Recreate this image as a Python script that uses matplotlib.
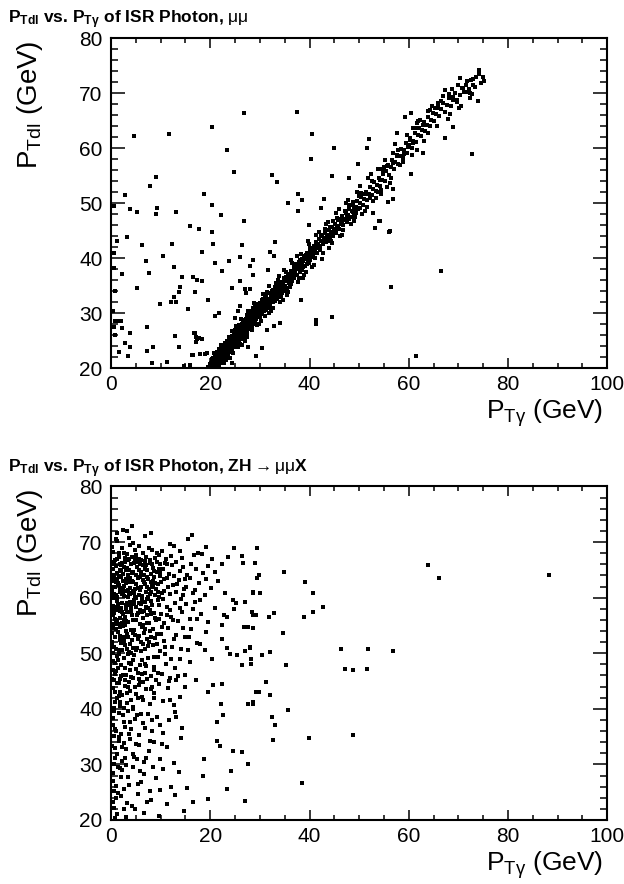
import matplotlib.pyplot as plt
from matplotlib.ticker import MultipleLocator

plt.rcParams['font.family'] = ['Liberation Sans', 'DejaVu Sans']
plt.rcParams['mathtext.fontset'] = 'custom'
plt.rcParams['mathtext.rm'] = 'Liberation Sans'
plt.rcParams['mathtext.it'] = 'Liberation Sans:italic'
plt.rcParams['mathtext.bf'] = 'Liberation Sans:bold'

# --- top panel: mu mu sample, (P_T gamma, P_T dl) pairs
top_band = [
    (19.6,20.2),(19.9,20.6),(20.1,20.1),(20.2,21.0),(20.4,20.4),(20.5,21.6),(20.6,20.9),(20.8,20.2),(20.9,22.1),(21.0,21.3),
    (21.1,20.6),(21.2,22.5),(21.3,21.8),(21.4,20.3),(21.5,22.9),(21.6,21.1),(21.7,22.2),(21.8,20.8),(21.9,23.1),(22.0,21.7),
    (22.1,22.6),(22.2,21.2),(22.3,23.5),(22.4,22.0),(22.5,20.9),(22.6,23.0),(22.7,22.4),(22.8,24.0),(22.9,21.8),(23.0,23.3),
    (23.1,22.6),(23.2,24.4),(23.3,23.8),(23.4,22.2),(23.5,24.9),(23.6,23.1),(23.7,24.2),(23.8,22.9),(23.9,25.1),(24.0,23.6),
    (24.1,24.7),(24.2,25.6),(24.3,23.4),(24.4,24.2),(24.5,25.3),(24.6,24.0),(24.7,26.0),(24.8,24.8),(24.9,23.9),(25.0,25.6),
    (25.1,26.3),(25.2,24.6),(25.3,25.9),(25.4,27.0),(25.5,25.2),(25.6,26.6),(25.7,24.9),(25.8,27.4),(25.9,26.1),(26.0,25.5),
    (26.1,27.2),(26.2,26.6),(26.3,28.1),(26.4,25.9),(26.5,27.6),(26.6,26.9),(26.7,28.4),(26.8,26.3),(26.9,27.9),(27.0,27.2),
    (27.1,29.0),(27.2,26.8),(27.3,28.5),(27.4,27.6),(27.5,29.3),(27.6,28.0),(27.7,27.1),(27.8,29.1),(27.9,28.4),(28.0,30.0),
    (28.1,27.9),(28.2,29.4),(28.3,28.7),(28.4,30.4),(28.5,28.1),(28.6,29.8),(28.7,29.0),(28.8,30.8),(28.9,28.6),(29.0,30.2),
    (29.1,29.4),(29.2,31.1),(29.3,28.9),(29.4,30.6),(29.5,29.9),(29.6,31.6),(29.7,30.3),(29.8,29.2),(29.9,31.0),(30.0,30.5),
    (30.1,31.8),(30.2,29.9),(30.4,31.3),(30.5,32.4),(30.6,30.7),(30.8,31.9),(30.9,30.3),(31.0,32.8),(31.2,31.6),(31.3,33.3),
    (31.4,30.9),(31.6,32.5),(31.7,31.8),(31.8,33.7),(32.0,32.2),(32.1,31.4),(32.3,33.4),(32.4,32.7),(32.6,34.2),(32.7,32.0),
    (32.8,33.8),(33.0,33.1),(33.1,34.7),(33.3,32.6),(33.4,34.1),(33.5,33.5),(33.7,35.2),(33.8,33.9),(34.0,32.9),(34.1,34.8),
    (34.3,34.2),(34.4,35.7),(34.5,33.6),(34.7,35.2),(34.8,34.6),(35.0,36.3),
    (35.1,35.0),(35.3,36.6),(35.4,34.5),(35.6,35.9),(35.8,37.1),(35.9,35.4),(36.1,36.8),(36.3,37.7),(36.4,35.9),(36.6,37.2),
    (36.8,38.3),(36.9,36.4),(37.1,37.8),(37.3,38.8),(37.4,36.9),(37.6,38.4),(37.8,39.3),(38.0,37.5),(38.2,38.9),(38.4,39.8),
    (38.5,37.9),(38.7,39.4),(38.9,40.3),(39.1,38.6),(39.3,40.0),(39.5,41.0),(39.6,39.1),(39.8,40.5),(40.0,39.6),
    (40.2,41.3),(40.4,40.2),(40.6,41.8),(40.8,40.7),(41.0,42.2),(41.2,41.3),(41.4,42.9),(41.6,41.0),(41.8,42.6),(42.0,43.4),
    (42.2,41.8),(42.4,43.1),(42.6,44.0),(42.8,42.5),(43.0,43.7),(43.2,44.6),(43.4,42.9),(43.6,44.2),(43.9,45.1),(44.1,43.5),
    (44.3,44.8),(44.5,45.7),(44.7,44.0),(44.9,45.3),
    (45.1,46.2),(45.3,44.6),(45.6,45.9),(45.8,46.9),(46.0,45.3),(46.3,46.5),(46.5,47.6),(46.8,46.0),(47.0,47.2),(47.3,48.2),
    (47.5,46.6),(47.8,47.9),(48.0,48.9),(48.3,47.5),(48.5,48.6),(48.8,49.6),(49.0,48.1),(49.3,49.3),(49.6,50.4),(49.8,48.9),
    (50.1,50.0),(50.4,51.2),(50.7,49.6),(51.0,50.8),(51.3,52.0),(51.6,50.6),(51.9,51.7),(52.2,52.9),(52.5,51.4),(52.8,52.5),
    (53.1,53.8),(53.4,52.3),(53.7,53.4),(54.0,54.6),(54.3,53.1),(54.6,54.2),(54.9,55.3),
    (55.2,54.1),(55.5,55.8),(55.8,56.9),(56.1,55.2),(56.4,56.6),(56.7,57.8),(57.0,56.3),(57.3,57.5),(57.6,58.8),(57.9,57.2),
    (58.2,58.6),(58.5,59.9),(58.8,58.3),(59.1,59.6),(59.4,61.0),(59.7,59.2),
    (60.0,60.6),(60.3,61.9),(60.6,60.1),(60.9,61.4),(61.2,62.8),(61.5,61.1),(61.8,62.5),(62.1,63.7),(62.4,62.2),(62.7,63.4),
    (63.0,64.8),(63.3,63.1),(63.6,64.3),(63.9,65.6),(64.2,64.0),(64.5,65.2),(64.8,66.5),
    (65.1,65.0),(65.5,66.3),(65.9,67.4),(66.2,65.9),(66.6,67.1),(67.0,68.3),(67.4,66.6),(67.8,67.9),(68.2,69.1),(68.6,67.6),
    (69.0,68.8),(69.4,70.0),(69.8,68.5),
    (70.3,69.7),(70.7,71.0),(71.2,70.2),(71.6,71.6),(72.1,70.8),(72.6,72.4),(73.0,71.5),(73.5,72.9),(74.1,73.5),(74.6,71.9),
    (75.2,72.3),(74.9,73.0),
    (74.2,74.3),(72.9,72.6),(70.3,72.7),(71.0,70.9),(71.5,70.2),(72.3,70.0),(72.3,69.2),(73.3,71.2),(67.4,70.6),(68.1,69.8),
    (69.0,69.4),(69.8,68.8),(70.5,67.6),(70.1,67.4),(65.9,68.2),(66.6,68.6),(65.3,67.3),(64.6,67.7),(63.9,66.7),(62.3,65.2),
    (62.9,64.3),(61.6,64.6),(60.9,63.7),(60.4,66.5),(59.2,65.7),(60.2,61.5),(60.9,60.9),(59.9,60.3),(61.6,59.7),(62.9,59.1),
    (57.6,58.5),(56.9,57.3),(55.6,56.7),(54.9,55.5),(54.2,54.3),(55.6,53.0),(54.5,52.4),(73.9,68.6),
]

top_band_extra = [
    (20.3,21.4),(21.7,20.5),(22.9,23.6),(20.9,20.6),(23.5,22.1),(24.8,26.3),(22.2,24.1),(25.9,24.4),(21.3,23.0),(26.5,28.7),
    (23.9,21.9),(27.3,25.6),(24.3,26.8),(28.4,26.9),(25.2,27.7),(29.1,31.7),(26.3,24.2),(30.3,28.6),(27.6,30.4),(31.1,29.4),
    (28.9,31.9),(32.2,30.3),(29.4,27.9),(33.6,36.1),(30.7,33.4),(34.6,32.4),(31.9,34.9),(35.7,33.8),(32.6,30.9),(36.5,39.2),
    (33.9,36.8),(37.7,35.6),(34.9,37.8),(38.8,37.0),(35.5,33.3),(39.9,42.6),(36.2,39.6),(40.9,38.8),(37.5,40.3),(41.9,44.7),
    (38.6,36.4),(42.7,40.9),(39.7,43.1),(43.8,46.5),(40.5,38.3),(44.6,42.7),(41.3,44.2),(45.4,48.2),(42.5,39.9),(46.2,44.1),
    (43.3,46.3),(47.4,50.1),(44.0,41.8),(48.4,46.2),(45.9,48.9),(49.5,52.0),(46.6,44.3),(50.6,48.1),(47.7,50.6),(51.8,54.5),
    (48.9,46.7),(52.9,50.4),(50.2,53.1),(53.8,56.2),(51.1,48.6),(54.4,51.6),(52.4,55.4),(55.3,57.8),(53.5,50.9),(56.2,53.7),
    (20.7,22.7),(22.5,22.6),(21.9,21.6),(23.1,21.4),(24.6,25.2),(23.7,25.6),(25.5,23.8),(26.9,26.0),(26.1,28.9),(27.9,27.1),
    (28.6,30.9),(29.8,28.1),(30.5,30.1),(31.5,33.9),(32.9,32.4),(33.2,35.4),(34.2,33.6),(35.2,37.4),(36.0,34.7),(37.0,38.9),
    (37.9,36.3),(38.3,40.8),(39.2,37.4),(40.1,41.9),(41.1,40.1),(42.1,42.2),(43.1,45.3),(44.4,43.2),(45.5,47.3),(46.7,45.2),
    (47.9,49.7),(49.1,47.4),(50.3,51.9),(51.5,49.3),(52.6,54.1),(53.9,52.0),(55.1,56.6),(56.5,54.6),(57.8,59.7),(58.9,57.5),
    (20.0,20.8),(21.5,21.8),(22.8,22.3),(24.1,23.3),(25.4,26.4),(26.7,26.1),(27.8,28.9),(29.6,30.9),(31.3,30.6),(32.5,33.9),
    (34.8,36.4),(36.7,36.3),(38.1,39.6),(40.3,40.9),(42.3,44.3),(44.8,46.7),(47.2,46.9),(49.9,51.3),(52.1,51.0),(54.7,56.3),
    (22.4,21.1),(23.3,24.9),(24.5,22.8),(25.7,27.9),(27.0,25.0),(28.3,29.9),(29.2,28.0),(30.6,32.6),(31.8,30.1),(33.0,34.6),
    (20.6,21.9),(21.2,20.1),(21.8,23.4),(22.6,21.5),(23.8,23.7),(24.4,25.9),(25.3,24.2),(26.6,27.0),(27.4,29.6),(28.1,27.2),
    (57.2,60.8),(58.3,56.9),(59.6,62.4),(60.7,58.8),(61.9,64.9),(63.1,61.4),(64.3,66.9),(65.6,64.0),(66.9,69.6),(68.4,66.2),
    (56.8,59.1),(59.0,58.9),(61.3,63.6),(63.8,62.7),(66.0,67.9),(68.7,70.7),(71.8,72.3),(67.9,65.4),(70.0,71.6),(72.8,69.9),
    (25.0,27.0),(26.0,26.9),(27.2,27.9),(29.0,29.3),(30.9,31.2),(33.5,32.7),(35.8,35.9),(39.4,39.8),(43.5,43.6),(48.7,48.4),
    (20.4,21.7),(21.1,22.0),(21.6,20.3),(22.1,23.1),(22.7,21.0),(23.2,22.9),(23.6,24.5),(24.2,23.1),(24.7,24.4),(25.1,25.0),
    (25.6,27.2),(26.2,25.2),(26.8,27.6),(27.3,26.3),(27.9,29.6),(28.5,27.4),(29.0,28.6),(29.5,30.6),(30.1,29.2),(30.7,31.5),
    (31.2,32.3),(31.9,31.1),(32.4,34.0),(33.1,32.2),(33.7,34.5),(34.3,33.1),(34.9,35.9),(35.5,36.2),(36.2,35.3),(36.8,37.7),
    (37.4,38.1),(38.0,38.6),(38.6,38.3),(39.2,40.6),(39.8,39.2),(40.6,40.9),(41.4,41.8),(42.1,41.4),(42.9,43.6),(43.7,43.1),
    (44.2,45.6),(45.0,44.5),(45.8,45.9),(46.5,46.3),(47.2,48.6),(48.0,47.1),(48.7,50.2),(49.4,48.2),(50.2,49.1),(51.2,51.6),
    (20.8,21.5),(21.4,21.2),(22.0,22.4),(22.6,22.2),(23.0,24.6),(23.6,22.5),(24.3,24.9),(24.9,25.4),(25.5,24.5),(26.0,27.8),
    (26.6,25.6),(27.1,27.6),(27.7,28.2),(28.2,28.1),(28.8,29.5),(29.3,29.8),(29.9,30.2),(30.4,30.9),(31.0,31.0),(31.6,31.3),
    (32.2,32.9),(32.9,33.4),(33.6,33.0),(34.2,35.3),(34.9,34.0),(35.6,36.7),(36.3,36.4),(37.0,37.3),(37.8,38.0),(38.5,39.0),
    (39.4,38.9),(40.3,41.6),(41.2,42.0),(42.0,41.9),(43.0,43.2),(44.0,44.3),(45.2,45.1),(46.4,47.2),(47.6,47.7),(48.9,49.0),
]

top_outliers = [
    (4.7,62.3),(11.6,62.6),(20.3,63.8),(26.7,66.5),(23.4,59.6),(24.7,55.6),(9.0,54.7),(7.9,53.2),(2.8,51.5),(18.8,51.6),
    (20.3,49.7),(0.6,49.4),(3.8,49.0),(9.2,49.1),(9.1,48.1),(5.3,48.4),(13.1,48.4),(22.2,47.8),(26.7,46.8),(15.9,45.8),
    (17.8,45.3),(20.4,44.8),(3.2,43.9),(1.2,43.2),(12.2,42.6),(20.6,42.6),(26.4,42.3),(6.3,42.4),(18.4,41.2),(0.5,40.9),
    (10.4,40.4),(28.7,39.6),(7.1,39.4),(21.0,39.2),(23.8,39.4),(26.0,40.2),(28.0,38.5),(0.5,38.2),(2.2,37.2),(7.7,37.3),
    (12.6,38.3),(22.4,37.7),(28.7,37.0),(14.3,36.6),(16.6,36.5),(17.3,36.1),(18.3,35.8),(26.0,35.9),(5.2,34.6),(13.9,34.7),
    (24.4,34.5),(27.0,34.4),(0.8,34.1),(13.6,33.8),(16.9,33.9),(12.6,33.0),(12.0,32.1),(13.1,32.1),(19.6,32.4),(9.9,31.7),
    (15.6,30.8),(25.9,31.2),(0.4,30.3),(21.0,29.4),(21.7,30.0),(0.7,28.5),(1.1,28.5),(2.1,28.5),(0.5,27.5),(2.2,27.3),
    (7.2,27.5),(3.8,26.4),(0.8,26.0),(12.8,25.8),(16.8,26.3),(17.1,25.6),(17.4,25.3),(2.8,24.6),(3.8,23.9),(8.4,23.8),
    (13.7,23.8),(1.6,22.9),(7.3,23.1),(3.4,22.2),(16.5,22.3),(19.3,22.7),(8.3,20.9),(11.2,21.1),(14.7,20.4),
    (72.7,59.0),(67.4,61.8),(60.4,55.3),(56.9,52.6),(56.8,50.7),(55.8,50.3),(54.2,46.8),(56.1,44.8),(69.0,63.8),(59.2,65.7),
    (57.7,62.7),(37.4,66.6),(40.6,62.6),(44.9,60.1),(40.3,58.1),(32.5,55.1),(33.4,53.9),(52.0,61.7),(51.5,60.1),(57.6,62.7),
    (37.7,51.7),(38.4,50.6),(35.7,50.0),(44.6,55.0),(42.9,50.7),(37.7,48.5),(42.3,49.2),(49.8,57.1),(48.0,54.6),(52.7,48.2),
    (39.8,46.0),(32.0,41.1),(33.0,42.9),(32.9,40.4),(31.6,37.9),(28.0,34.4),(27.2,33.7),(34.1,32.1),(33.2,32.7),(38.3,32.3),
    (25.5,30.3),(25.0,29.1),(28.8,29.9),(31.4,27.0),(32.9,27.6),(34.1,28.2),(17.0,26.4),(17.2,24.7),(17.8,25.5),(18.3,25.3),
    (16.4,22.3),(17.9,22.6),(19.0,22.6),(27.7,23.9),(30.4,23.7),(29.2,22.1),(24.3,20.9),(15.9,20.5),(66.5,37.7),(56.5,34.7),
    (44.5,29.3),(41.4,28.8),(41.4,28.1),(61.4,22.1),(53.2,45.5),(54.0,46.7),(56.2,44.9),
]

# --- bottom panel: ZH -> mu mu X sample
bot_core = [
    (0.4,68.3),(2.3,69.0),(4.9,68.5),(7.7,68.9),(9.2,68.1),(12.6,69.3),(1.5,68.0),(3.9,69.5),
    (0.3,65.2),(0.8,66.8),(1.2,64.5),(1.6,67.3),(2.1,65.9),(2.4,64.2),(2.9,66.4),(3.3,67.8),(3.6,65.0),(4.0,66.1),
    (4.5,64.7),(4.8,67.0),(5.2,65.6),(5.7,66.9),(6.1,64.4),(6.5,65.8),(7.0,67.4),(7.3,64.9),(7.9,66.2),(8.4,65.3),
    (8.8,67.1),(9.3,64.6),(9.9,66.0),(10.4,65.1),(11.0,67.0),(11.6,64.3),(12.3,65.8),(13.1,66.5),(13.8,64.8),(14.6,65.5),
    (15.4,64.1),(16.2,66.0),(0.5,64.0),(1.9,66.0),(3.0,64.9),(5.0,67.6),(6.8,66.6),(8.1,64.2),(9.6,67.6),(10.8,66.2),
    (12.0,67.5),(17.1,65.2),(18.5,64.4),(19.6,65.7),(21.0,64.6),(22.4,66.1),
    (0.2,61.3),(0.6,63.5),(0.9,60.4),(1.3,62.6),(1.7,61.0),(2.0,63.8),(2.3,60.7),(2.7,62.1),(3.1,63.3),(3.4,60.2),
    (3.8,61.7),(4.2,63.0),(4.6,60.9),(5.0,62.4),(5.4,63.6),(5.8,61.4),(6.2,60.3),(6.6,62.8),(7.0,61.1),(7.4,63.4),
    (7.8,60.6),(8.2,62.2),(8.7,63.7),(9.1,61.5),(9.6,60.2),(10.1,62.9),(10.6,61.2),(11.2,63.5),(11.8,60.7),(12.4,62.3),
    (13.0,61.0),(13.7,63.2),(14.4,60.5),(15.2,62.0),(16.0,63.6),(16.9,61.3),(17.8,62.7),(18.9,60.4),(20.1,61.8),(21.5,63.0),
    (23.0,60.8),(0.4,62.0),(1.1,60.1),(1.5,63.9),(2.5,61.6),(3.6,62.9),(4.4,61.2),(5.6,60.5),(6.4,63.1),(7.2,62.0),
    (8.0,61.0),(8.9,62.6),(9.8,63.9),(11.5,61.9),(13.3,62.5),(14.9,63.4),(16.5,60.8),(19.2,63.3),(0.1,63.0),(3.9,60.6),
    (6.0,61.9),(10.3,60.9),(12.7,63.9),
    (0.3,58.5),(0.7,56.2),(1.1,59.4),(1.4,55.3),(1.8,57.6),(2.2,59.0),(2.6,56.0),(3.0,57.9),(3.5,55.6),(3.9,58.7),
    (4.3,56.8),(4.7,59.6),(5.1,55.9),(5.5,57.3),(6.0,58.9),(6.4,56.4),(6.9,59.2),(7.3,55.4),(7.8,57.7),(8.3,58.6),
    (8.8,56.3),(9.4,59.5),(10.0,57.1),(10.7,55.5),(11.3,58.4),(12.0,56.6),(12.8,59.1),(13.5,55.8),(14.3,57.5),(15.1,58.8),
    (16.0,56.2),(17.0,59.3),(18.2,57.0),(19.5,55.7),(21.0,58.2),(22.7,56.9),(24.5,59.6),(0.5,57.2),(2.9,55.1),(4.0,57.4),
    (5.8,55.2),(7.5,58.1),(9.1,55.9),(11.8,57.8),(14.0,59.7),(0.9,55.7),(2.0,58.2),(6.6,57.6),(8.6,57.3),(10.4,59.8),
    (0.2,53.6),(0.6,51.2),(1.0,54.4),(1.5,50.6),(1.9,52.8),(2.4,54.9),(2.8,51.5),(3.3,53.4),(3.7,50.3),(4.2,52.4),
    (4.7,54.2),(5.2,51.0),(5.7,53.1),(6.2,54.7),(6.8,50.8),(7.3,52.6),(7.9,54.0),(8.5,51.4),(9.2,53.5),(9.9,50.4),
    (10.6,52.2),(11.4,54.5),(12.2,51.1),(13.1,53.2),(14.0,50.7),(15.0,52.9),(16.1,54.3),(17.3,51.8),(0.4,50.1),(2.1,51.9),
    (3.0,54.0),(4.5,50.9),(6.0,52.0),(8.0,53.0),(10.2,54.8),(12.7,52.6),(14.6,54.6),
    (0.3,48.6),(0.8,46.2),(1.2,49.5),(1.7,45.4),(2.1,47.8),(2.6,49.1),(3.1,46.0),(3.6,48.3),(4.1,45.7),(4.6,49.7),
    (5.1,47.1),(5.7,45.3),(6.2,48.8),(6.8,46.5),(7.4,49.2),(8.0,45.9),(8.7,47.6),(9.4,49.4),(10.2,46.3),(11.0,48.1),
    (11.9,45.6),(12.8,47.4),(13.8,49.0),(14.9,46.0),(16.0,48.5),(17.2,45.2),(0.5,45.1),(1.4,47.3),(3.4,49.8),(5.4,46.4),
    (7.0,47.7),(9.0,45.2),(10.8,49.9),(13.0,45.1),
    (0.2,43.7),(0.7,41.3),(1.2,44.6),(1.7,40.5),(2.2,42.4),(2.8,44.1),(3.3,41.0),(3.9,43.2),(4.5,40.3),(5.1,42.7),
    (5.8,44.8),(6.4,41.6),(7.1,43.5),(7.9,40.8),(8.7,42.9),(9.6,44.4),(10.5,41.4),(11.5,43.8),(12.6,40.6),(13.8,42.2),
    (15.0,44.0),(0.5,40.1),(1.9,43.0),(3.6,44.9),(5.4,41.9),(8.2,44.0),
    (0.3,38.4),(0.9,36.1),(1.5,39.3),(2.1,35.5),(2.7,37.7),(3.4,39.6),(4.1,36.4),(4.9,38.2),(5.7,35.3),(6.5,37.5),
    (7.4,39.1),(8.3,36.0),(9.3,38.6),(10.4,35.7),(11.6,37.9),(12.9,39.4),(14.2,36.6),(0.6,35.2),(2.4,38.9),(4.5,39.9),
    (6.9,36.6),
    (0.2,33.4),(0.8,31.2),(1.5,34.3),(2.2,30.6),(3.0,32.7),(3.8,34.6),(4.7,31.3),(5.6,33.5),(6.6,30.4),(7.6,32.4),
    (8.7,34.1),(9.9,31.0),(11.2,33.2),(12.6,30.2),(14.1,34.8),(0.5,30.1),(2.6,33.8),(5.2,30.9),
    (0.3,28.4),(1.0,26.1),(1.8,29.3),(2.6,25.5),(3.5,27.7),(4.5,29.6),(5.5,26.4),(6.6,28.2),(7.8,25.3),(9.1,27.5),
    (10.5,29.1),(12.0,26.0),(13.6,28.6),(15.3,25.8),(0.6,25.2),(3.0,29.9),
    (0.4,23.2),(1.2,21.0),(2.1,24.3),(3.1,20.6),(4.2,22.5),(5.4,24.7),(6.7,21.3),(8.1,23.6),(9.6,20.8),(11.2,22.9),
    (12.9,24.5),(14.7,21.6),(0.8,20.3),(2.6,22.0),
]

bot_core_extra = [
    (0.7,63.2),(1.9,61.7),(3.2,65.4),(4.4,62.9),(0.5,60.7),(2.8,67.1),(5.9,63.8),(1.4,58.9),(3.7,60.9),(6.7,64.1),
    (2.2,66.3),(7.6,61.6),(0.9,65.7),(4.1,58.2),(5.3,66.4),(8.5,63.0),(1.6,62.3),(3.4,64.0),(6.3,59.6),(0.3,56.8),
    (2.6,60.3),(7.1,65.9),(4.8,61.5),(9.4,62.5),(1.2,67.0),(5.6,64.9),(3.0,58.6),(8.1,59.4),(0.6,59.9),(6.9,62.4),
    (2.4,63.0),(4.6,66.2),(9.9,64.4),(1.8,56.4),(7.9,66.8),(3.9,63.6),(0.2,66.0),(5.1,60.0),(10.7,63.4),(2.9,61.2),
    (6.1,66.7),(1.0,57.7),(4.3,64.4),(8.9,60.5),(3.5,66.8),(0.8,61.9),(5.8,57.8),(7.3,63.7),(2.0,64.8),(11.3,66.0),
    (0.4,54.6),(1.7,52.3),(3.1,55.8),(4.9,53.3),(0.9,50.8),(2.5,57.1),(6.4,55.0),(1.3,53.8),(3.8,51.6),(7.2,56.9),
    (2.2,55.4),(5.4,52.5),(0.6,57.9),(4.4,55.9),(8.4,54.3),(1.6,49.8),(3.4,52.9),(6.0,50.4),(0.2,52.0),(2.7,53.0),
    (5.0,58.4),(9.6,56.2),(1.1,56.0),(4.0,50.0),(7.6,52.1),(3.2,57.4),(0.7,48.3),(2.3,50.5),(6.6,53.6),(1.9,54.7),
    (0.3,46.9),(1.5,44.7),(2.9,47.3),(4.5,45.6),(0.8,43.0),(2.4,46.0),(5.9,47.9),(1.2,41.9),(3.5,44.0),(7.3,45.3),
    (0.5,39.6),(1.9,41.2),(3.2,42.9),(0.9,46.8),(4.8,44.0),(6.3,42.1),(2.7,40.1),(0.2,45.3),(8.6,47.0),(4.0,48.0),
    (0.4,37.0),(1.6,34.9),(2.9,36.8),(0.7,33.0),(3.8,37.6),(5.0,33.6),(1.1,31.8),(2.3,29.0),(0.3,27.1),(1.4,24.9),
    (3.6,26.3),(0.6,22.1),(2.0,27.8),(4.4,31.9),(6.1,39.0),(7.8,34.2),(9.8,37.1),(11.9,41.5),(13.4,45.9),(10.9,51.1),
    (12.5,55.9),(14.8,61.5),(16.6,57.9),(15.7,53.0),(13.9,58.2),(17.9,59.6),(11.2,56.8),(10.1,53.4),(12.1,49.0),(15.5,50.6),
    (9.4,46.5),(11.6,45.0),(8.7,42.0),(13.1,38.6),(10.2,33.7),(8.4,29.5),(6.0,26.9),(4.8,21.9),(7.3,23.2),(9.9,25.4),
    (0.1,69.2),(1.0,70.6),(2.6,68.1),(5.7,69.3),(3.6,70.8),(6.4,68.0),(10.2,68.4),(14.2,67.2),(16.8,67.7),(20.3,66.9),
    (0.6,66.4),(1.8,64.9),(3.1,62.6),(4.2,67.3),(5.5,61.8),(6.8,65.2),(8.0,62.9),(9.2,66.5),(0.3,60.2),(1.5,58.1),
    (2.7,65.6),(3.8,59.3),(5.0,64.1),(6.2,57.4),(7.4,60.2),(8.6,64.8),(9.7,58.7),(1.0,62.8),(2.2,57.5),(3.4,61.4),
    (4.6,58.9),(5.8,66.1),(7.0,58.3),(8.2,66.0),(9.4,61.0),(0.5,55.3),(1.7,53.1),(2.9,56.6),(4.1,54.1),(5.3,56.9),
    (6.5,51.7),(7.7,55.5),(8.9,52.8),(0.2,51.6),(1.4,48.7),(2.6,52.2),(3.8,46.9),(5.0,50.6),(6.2,46.2),(7.4,51.3),
    (8.6,49.3),(0.8,53.0),(2.0,45.9),(3.2,50.8),(4.4,48.8),(5.6,44.2),(6.8,48.1),(8.0,43.6),(9.2,51.7),(1.2,63.4),
    (2.4,61.0),(3.6,67.0),(4.8,60.1),(6.0,64.7),(7.2,59.8),(8.4,61.9),(9.6,65.1),(0.9,58.4),(2.1,55.0),(3.3,59.0),
    (4.5,53.7),(5.7,59.1),(6.9,54.4),(8.1,57.1),(0.4,43.7),(1.6,42.3),(2.8,45.1),(4.0,41.5),(5.2,38.9),(6.4,44.9),
    (0.7,36.4),(2.2,33.1),(3.7,35.5),(1.3,29.5),(2.9,31.2),(0.9,24.0),(3.3,23.1),(5.8,28.8),(7.0,31.1),(8.3,38.0),
]

bot_outliers = [
    (63.9,65.8),(66.2,63.6),(88.2,64.0),(46.3,50.8),(51.7,50.7),(56.9,50.4),(47.2,47.2),(48.8,47.0),(51.6,47.2),(48.8,35.3),
    (39.9,34.7),(38.5,26.6),(42.7,58.3),(40.8,60.8),(40.8,57.4),(38.8,56.6),(39.0,62.9),(34.9,64.7),(34.6,53.6),(35.2,47.9),
    (35.6,39.7),(32.6,34.4),(33.0,37.1),(32.4,38.6),(32.1,42.5),(31.3,44.8),(29.2,43.0),(29.8,43.0),(28.6,40.8),(30.5,49.7),
    (32.0,50.2),(28.2,48.1),(28.0,51.0),(28.6,54.5),(28.6,56.9),(29.2,56.9),(31.8,56.5),(32.8,57.3),(28.6,60.8),(30.0,60.8),
    (29.5,63.5),(29.8,64.1),(29.1,66.3),(29.4,68.9),
    (2.5,72.2),(4.3,72.9),(3.2,71.9),(8.0,71.7),(6.9,71.0),(16.3,71.3),(15.6,70.5),(11.9,69.6),(13.9,68.4),(8.2,68.6),
    (4.5,69.9),(1.2,71.6),(1.2,70.1),(19.2,69.2),(17.6,68.0),(18.3,67.8),(24.7,69.0),(26.3,67.5),(23.6,67.4),(26.5,66.2),
    (28.7,61.0),(28.4,57.4),(26.7,54.7),(27.7,54.7),(26.9,59.2),(25.2,59.1),(24.8,57.9),(23.3,56.5),(22.3,55.0),
    (22.3,52.6),(23.3,51.0),(24.0,49.8),(25.3,49.7),(26.3,47.8),(27.0,50.4),(28.0,51.1),(28.3,49.0),(27.7,40.9),(28.6,41.2),
    (22.1,40.9),(22.6,38.8),(21.3,37.6),(20.6,44.2),(19.6,43.0),(22.3,44.5),(20.3,49.0),(19.0,50.5),(18.0,51.7),(19.2,53.8),
    (17.3,56.2),(21.3,34.3),(22.0,33.4),(24.5,32.5),(26.3,32.2),(27.7,30.1),(24.1,28.9),(26.9,23.5),(23.3,25.5),(18.5,28.0),
    (19.6,23.8),(16.6,23.2),(18.7,31.0),
]

x_ticks = [0, 20, 40, 60, 80, 100]
y_ticks = [20, 30, 40, 50, 60, 70, 80]

fig = plt.figure(figsize=(6.24, 8.84), dpi=100)

panels = [
    ([0.178, 0.5837, 0.795, 0.3729], top_band + top_band_extra + top_outliers,
     r'P$_{\mathbf{Tdl}}$ vs. P$_{\mathbf{T\gamma}}$ of ISR Photon, $\mathrm{\mu\mu}$', 0.991, 1 - 419 / 884),
    ([0.178, 0.0724, 0.795, 0.3773], bot_core + bot_core_extra + bot_outliers,
     r'P$_{\mathbf{Tdl}}$ vs. P$_{\mathbf{T\gamma}}$ of ISR Photon, ZH$\rightarrow\mathrm{\mu\mu}$X', 0.483, 1 - 871 / 884),
]

for rect, pts, title, ty, xly in panels:
    ax = fig.add_axes(rect)
    xs = [p[0] for p in pts]
    ys = [p[1] for p in pts]
    ax.plot(xs, ys, linestyle='none', marker='s', markersize=2.3, color='black', markeredgewidth=0)
    ax.set_xlim(0, 100)
    ax.set_ylim(20, 80)
    ax.set_xticks(x_ticks)
    ax.set_yticks(y_ticks)
    ax.xaxis.set_minor_locator(MultipleLocator(5))
    ax.yaxis.set_minor_locator(MultipleLocator(2))
    ax.tick_params(which='both', direction='in', top=True, right=True, width=1.1, labelsize=15)
    ax.tick_params(axis='x', which='major', length=7, pad=5)
    ax.tick_params(axis='x', which='minor', length=3.5)
    ax.tick_params(axis='y', which='major', length=10, pad=6)
    ax.tick_params(axis='y', which='minor', length=5)
    for sp in ax.spines.values():
        sp.set_linewidth(1.5)

    fig.text(0.013, ty, title, fontsize=12.5, weight='bold', va='top', ha='left')
    fig.text(603 / 624, xly, r'P$_{\mathrm{T\gamma}}$ (GeV)', fontsize=19, ha='right', va='baseline')
    fig.text(0.048, rect[1] + rect[3] - 0.002, r'P$_{\mathrm{Tdl}}$ (GeV)', fontsize=20,
             rotation=90, ha='center', va='top')

fig.savefig('out.png', dpi=100)
